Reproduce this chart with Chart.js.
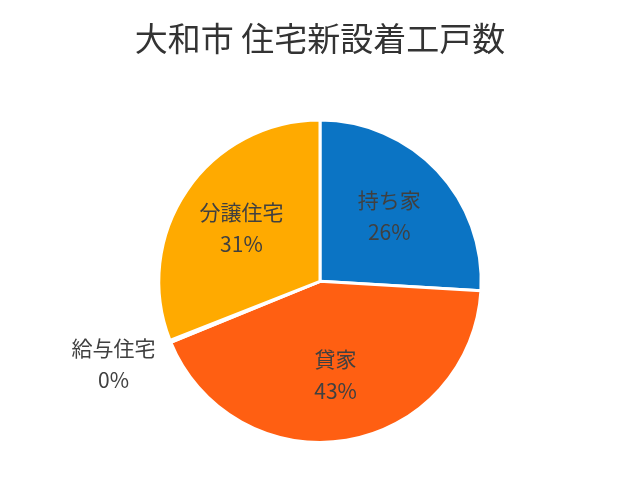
<!DOCTYPE html>
<html lang="ja">
<head>
<meta charset="utf-8">
<title>大和市 住宅新設着工戸数</title>
<script src="https://cdn.jsdelivr.net/npm/chart.js@4/dist/chart.umd.min.js"></script>
<style>
  html, body { margin: 0; padding: 0; background: #ffffff; }
  #wrap { width: 640px; height: 493px; }
</style>
</head>
<body>
<div id="wrap"><canvas id="c" width="640" height="493"></canvas></div>
<script>
// 住宅の種類と新設着工戸数
const categories = ['持ち家', '貸家', '給与住宅', '分譲住宅'];
const units = [248, 410, 2, 296];
const sliceColors = ['#0B74C4', '#FF5F12', '#A5A5A5', '#FFAA00'];
const titleText = '大和市 住宅新設着工戸数';

const total = units.reduce((a, b) => a + b, 0);
const pct = v => Math.round(v / total * 100) + '%';

const FONT = '"Noto Sans CJK JP", "Noto Sans", sans-serif';

// 各扇形の内側（小さい扇形は外側）に名前と割合を描く
const sliceLabels = {
  id: 'sliceLabels',
  afterDatasetsDraw(chart) {
    const { ctx } = chart;
    const meta = chart.getDatasetMeta(0);
    ctx.save();
    ctx.font = '21px ' + FONT;
    ctx.fillStyle = '#404040';
    ctx.textAlign = 'center';
    ctx.textBaseline = 'middle';
    meta.data.forEach((arc, i) => {
      const { x, y, startAngle, endAngle, outerRadius } = arc.getProps(['x', 'y', 'startAngle', 'endAngle', 'outerRadius'], true);
      const mid = (startAngle + endAngle) / 2;
      const share = units[i] / total;
      const r = share < 0.02 ? outerRadius * 1.38 : outerRadius * 0.59;
      const lx = x + Math.cos(mid) * r;
      const ly = y + Math.sin(mid) * r;
      ctx.fillText(categories[i], lx, ly - 16);
      ctx.fillText(pct(units[i]), lx, ly + 16);
    });
    ctx.restore();
  }
};

new Chart(document.getElementById('c'), {
  type: 'pie',
  data: {
    labels: categories,
    datasets: [{
      data: units,
      backgroundColor: sliceColors,
      borderColor: '#ffffff',
      borderWidth: 3
    }]
  },
  options: {
    responsive: false,
    animation: false,
    layout: { padding: { top: 0, bottom: 49, left: 0, right: 0 } },
    plugins: {
      legend: { display: false },
      tooltip: { enabled: false },
      title: {
        display: true,
        text: titleText,
        color: '#333333',
        font: { family: FONT, size: 33, weight: 'normal' },
        padding: { top: 19, bottom: 60 }
      }
    }
  },
  plugins: [sliceLabels]
});
</script>
</body>
</html>
